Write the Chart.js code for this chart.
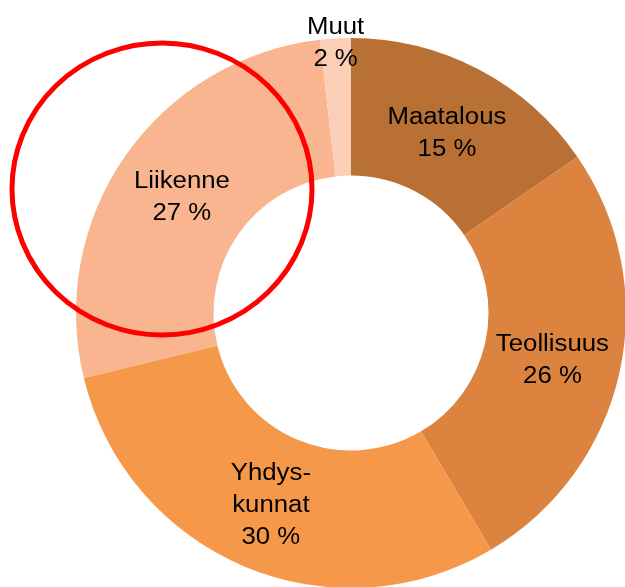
<!DOCTYPE html>
<html>
<head>
<meta charset="utf-8">
<script src="https://cdn.jsdelivr.net/npm/chart.js@4.4.0/dist/chart.umd.min.js"></script>
<style>
  html, body { margin: 0; padding: 0; background: #fff; overflow: hidden; }
  #wrap { width: 625px; height: 587px; overflow: hidden; }
</style>
</head>
<body>
<div id="wrap"><canvas id="myChartDonut" width="626" height="588"></canvas></div>
<script>
const categories = ['Maatalous', 'Teollisuus', 'Yhdyskunnat', 'Liikenne', 'Muut'];
const labelLines = [['Maatalous'], ['Teollisuus'], ['Yhdys-', 'kunnat'], ['Liikenne'], ['Muut']];
const shares = [15.4, 26.1, 29.7, 27.0, 1.8];
const sliceColors = ['#B97034', '#DB833F', '#F6984A', '#F8B58F', '#FBCEB8'];

// slice labels: name + percent, inside the ring (small slice sits on its outer edge)
const sliceLabels = {
  id: 'sliceLabels',
  afterDatasetsDraw(chart) {
    const c = chart.ctx;
    const arcs = chart.getDatasetMeta(0).data;
    c.save();
    c.fillStyle = '#000';
    c.font = '23px "Liberation Sans", Arial, sans-serif';
    c.textAlign = 'center';
    c.textBaseline = 'middle';
    arcs.forEach((arc, i) => {
      const mid = (arc.startAngle + arc.endAngle) / 2;
      const small = shares[i] < 5;
      const r = small ? arc.outerRadius - 2 : (arc.innerRadius + arc.outerRadius) / 2;
      const x = arc.x + Math.cos(mid) * r;
      const y = arc.y + Math.sin(mid) * r + 3;
      const lines = labelLines[i].concat([Math.round(shares[i]) + ' %']);
      const lh = 32;
      lines.forEach((t, k) => {
        c.save();
        c.translate(x, y + (k - (lines.length - 1) / 2) * lh);
        c.scale(1.12, 1);
        c.fillText(t, 0, 0);
        c.restore();
      });
    });
    c.restore();
  }
};

// red hand-drawn highlight ring around the Liikenne slice
const highlight = {
  id: 'highlight',
  afterDraw(chart) {
    const c = chart.ctx;
    const a = chart.chartArea;
    c.save();
    c.strokeStyle = '#FF0000';
    c.lineWidth = 5;
    c.beginPath();
    c.ellipse(a.left + 86, a.top + 151, 150, 146, 0, 0, Math.PI * 2);
    c.stroke();
    c.restore();
  }
};

const ctx = document.getElementById('myChartDonut').getContext('2d');
const myChart = new Chart(ctx, {
  type: 'doughnut',
  data: {
    labels: categories,
    datasets: [{
      data: shares,
      backgroundColor: sliceColors,
      borderWidth: 0
    }]
  },
  options: {
    responsive: false,
    animation: false,
    cutout: '50%',
    layout: { padding: { left: 76, top: 38, right: 0, bottom: 0 } },
    plugins: {
      legend: { display: false },
      tooltip: { enabled: false }
    }
  },
  plugins: [sliceLabels, highlight]
});
</script>
</body>
</html>
